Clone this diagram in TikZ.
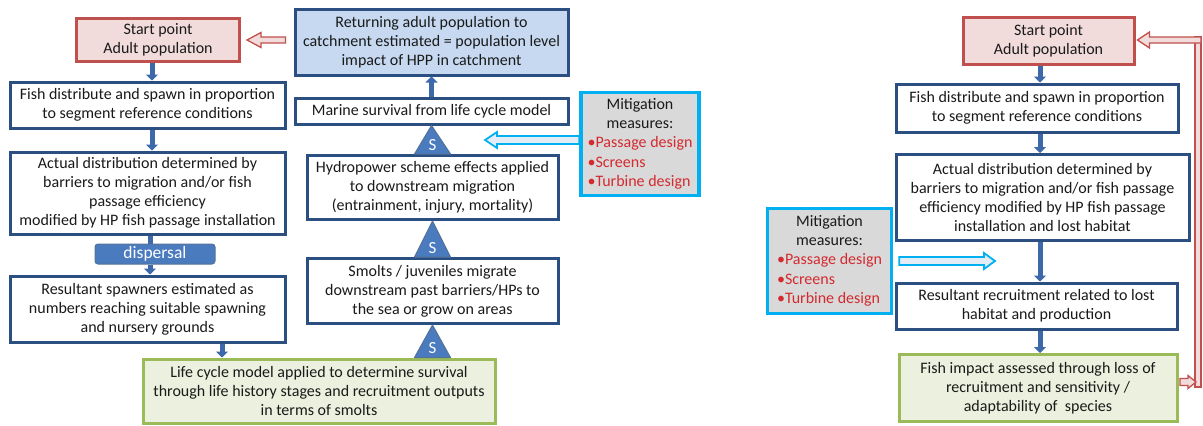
\documentclass[tikz,border=0pt]{standalone}
\usepackage{fontspec}
\setmainfont{Carlito}
\usetikzlibrary{calc,arrows.meta}

\definecolor{boxblue}{HTML}{2A4F80}
\definecolor{flowblue}{HTML}{3D69AA}
\definecolor{trifill}{HTML}{4A7BBF}
\definecolor{retfill}{HTML}{C6D9F1}
\definecolor{startred}{HTML}{C0504D}
\definecolor{startfill}{HTML}{F2DCDB}
\definecolor{greenline}{HTML}{9BBB59}
\definecolor{greenfill}{HTML}{EBF1DE}
\definecolor{mitline}{HTML}{00B0F0}
\definecolor{mitfill}{HTML}{D9D9D9}
\definecolor{mred}{HTML}{D42A2F}
\definecolor{txt}{HTML}{1A1A1A}
\definecolor{cyanfill}{HTML}{E4EDF5}

% horizontal hollow block arrow: style, tip, tail, head length, head half-width, shaft half-width
\newcommand\hollowH[6]{%
  \draw[#1] let \p1=(#2), \p2=(#3), \n1={(\x2>\x1)*2-1} in
    (\x1,\y1) -- (\x1+\n1*#4,\y1+#5) -- (\x1+\n1*#4,\y1+#6)
    -- (\x2,\y1+#6) -- (\x2,\y1-#6) -- (\x1+\n1*#4,\y1-#6)
    -- (\x1+\n1*#4,\y1-#5) -- cycle;}

% contents of the mitigation boxes
\newcommand\mitlist{%
  \begin{tabular}{@{}l@{}}
    \multicolumn{1}{@{}c@{}}{Mitigation}\\
    \multicolumn{1}{@{}c@{}}{measures:}\\
    \textcolor{mred}{•Passage design}\\
    \textcolor{mred}{•Screens}\\
    \textcolor{mred}{•Turbine design}
  \end{tabular}}

\begin{document}
\begin{tikzpicture}[x=1pt,y=-1pt,
  every node/.style={text=txt, font=\fontsize{16}{19}\selectfont, align=center, inner sep=1pt},
  sz/.style 2 args={minimum width=#1pt, minimum height=#2pt},
  box/.style={draw=boxblue, line width=3pt, fill=white},
  startbox/.style={draw=startred, line width=3pt, fill=startfill},
  retbox/.style={draw=boxblue, line width=3pt, fill=retfill},
  greenbox/.style={draw=greenline, line width=3pt, fill=greenfill},
  mitbox/.style={draw=mitline, line width=3.6pt, fill=mitfill, font=\fontsize{16}{19.3}\selectfont},
  dispbox/.style={draw=boxblue!80, line width=1pt, fill=trifill, rounded corners=3pt,
    text=white, font=\fontsize{17.5}{20}\selectfont},
  flow/.style={draw=flowblue, line width=5pt, -{Triangle[length=6pt,width=12pt]}},
  flowline/.style={draw=flowblue, line width=5pt},
  stri/.style={draw=boxblue!80, line width=1pt, fill=trifill, line join=round},
  stxt/.style={text=white, font=\fontsize{17}{20}\selectfont},
  hollowred/.style={draw=startred, line width=1.3pt, fill=startfill},
  hollowcyan/.style={draw=mitline, line width=1.8pt, fill=cyanfill},
]
\useasboundingbox (0,0) rectangle (1203,426);

% ---------------- left flow: full life cycle ----------------
\node[startbox, sz={163}{43}] (lstart) at (158,40) {Start point\\Adult population};
\node[box, sz={275}{46}] (lfish) at (147.5,105) {Fish distribute and spawn in proportion\\to segment reference conditions};
\node[box, sz={275}{82}] (lact) at (147.5,193) {Actual distribution determined by\\barriers to migration and/or fish\\passage efficiency\\modified by HP fish passage installation};
\node[dispbox, sz={120}{20}] (ldisp) at (155,254) {dispersal};
\node[box, sz={275}{66}] (lres) at (147.5,309) {Resultant spawners estimated as\\numbers reaching suitable spawning\\and nursery grounds};
\node[greenbox, sz={352}{64}] (lgreen) at (319,391) {Life cycle model applied to determine survival\\through life history stages and recruitment outputs\\in terms of smolts};

\node[retbox, sz={273}{66}] (lret) at (431.5,42) {Returning adult population to\\catchment estimated = population level\\impact of HPP in catchment};
\node[box, sz={273}{26}] (lmar) at (431.5,111) {Marine survival from life cycle model};
\node[box, sz={251}{64}] (lhyd) at (432.5,187.5) {Hydropower scheme effects applied\\to downstream migration\\(entrainment, injury, mortality)};
\node[box, sz={251}{65}] (lsmo) at (432.5,291) {Smolts / juveniles migrate\\downstream past barriers/HPs to\\the sea or grow on areas};
\node[mitbox, sz={118}{103}] (lmit) at (640,144) {\mitlist};

% downward flow arrows
\coordinate (xl1) at (152,0);
\coordinate (xl2) at (150,0);
\coordinate (xl3) at (222,0);
\draw[flow] (xl1 |- lstart.south) -- (xl1 |- lfish.north);
\draw[flow] (xl1 |- lfish.south) -- (xl1 |- lact.north);
\draw[flowline] (xl2 |- lact.south) -- (xl2 |- ldisp.north);
\draw[flow] (xl2 |- ldisp.south) -- (xl2 |- lres.north);
\draw[flow] (xl3 |- lres.south) -- (xl3 |- lgreen.north);
\draw[flow] (lmar.north) -- (lret.south);

% survival steps
\coordinate (t3b) at (lsmo.south |- lgreen.north);
\draw[stri] (lmar.south) -- ($(lhyd.north)+(-18,0)$) -- ($(lhyd.north)+(18,0)$) -- cycle;
\node[stxt] at ($(lhyd.north)+(0,-9)$) {S};
\draw[stri] (lhyd.south) -- ($(lsmo.north)+(-18,0)$) -- ($(lsmo.north)+(18,0)$) -- cycle;
\node[stxt] at ($(lsmo.north)+(0,-9)$) {S};
\draw[stri] (lsmo.south) -- ($(t3b)+(-18,0)$) -- ($(t3b)+(18,0)$) -- cycle;
\node[stxt] at ($(t3b)+(0,-9)$) {S};

% return to start and mitigation input
\coordinate (lTip) at ($(lstart.east)+(6,0)$);
\hollowH{hollowred}{lTip}{$(lret.west)+(-8,0)$}{14pt}{7.5pt}{3pt}
\coordinate (cTip) at (485,140);
\hollowH{hollowcyan}{cTip}{lmit.west}{12pt}{8pt}{4pt}

% ---------------- right flow: habitat loss ----------------
\node[startbox, sz={171}{47}] (rstart) at (1048.5,40.5) {Start point\\Adult population};
\node[box, sz={282}{48}] (rfish) at (1037,108) {Fish distribute and spawn in proportion\\to segment reference conditions};
\node[box, sz={293}{86}] (ract) at (1042.5,197.5) {Actual distribution determined by\\barriers to migration and/or fish passage\\efficiency modified by HP fish passage\\installation and lost habitat};
\node[mitbox, sz={124}{105}] (rmit) at (829.5,261) {\mitlist};
\node[box, sz={281}{46}] (rres) at (1036.5,306) {Resultant recruitment related to lost\\habitat and production};
\node[greenbox, sz={278}{67}] (rgreen) at (1038,388) {Fish impact assessed through loss of\\recruitment and sensitivity /\\adaptability of\ \ species};

\coordinate (xr) at (1040,0);
\draw[flow] (xr |- rstart.south) -- (xr |- rfish.north);
\draw[flow] (xr |- rfish.south) -- (xr |- ract.north);
\draw[flow] (xr |- ract.south) -- (xr |- rres.north);
\draw[flow] (xr |- rres.south) -- (xr |- rgreen.north);

\coordinate (rcTip) at (995,261);
\hollowH{hollowcyan}{rcTip}{$(rmit.east)+(6,0)$}{11pt}{8pt}{4pt}

% loop back from impact to start
\coordinate (retTop) at (1198,40);
\coordinate (retBot) at (1198,382);
\draw[hollowred] ($(retTop)+(-3,-3)$) rectangle ($(retBot)+(3,5)$);
\coordinate (bTip) at (1196,382);
\hollowH{hollowred}{bTip}{$(rgreen.east)+(1.5,0)$}{8pt}{6.5pt}{3.5pt}
\coordinate (tTip) at ($(rstart.east)+(2,-0.5)$);
\hollowH{hollowred}{tTip}{$(retTop)+(3,0)$}{12pt}{8pt}{3pt}
\end{tikzpicture}
\end{document}
